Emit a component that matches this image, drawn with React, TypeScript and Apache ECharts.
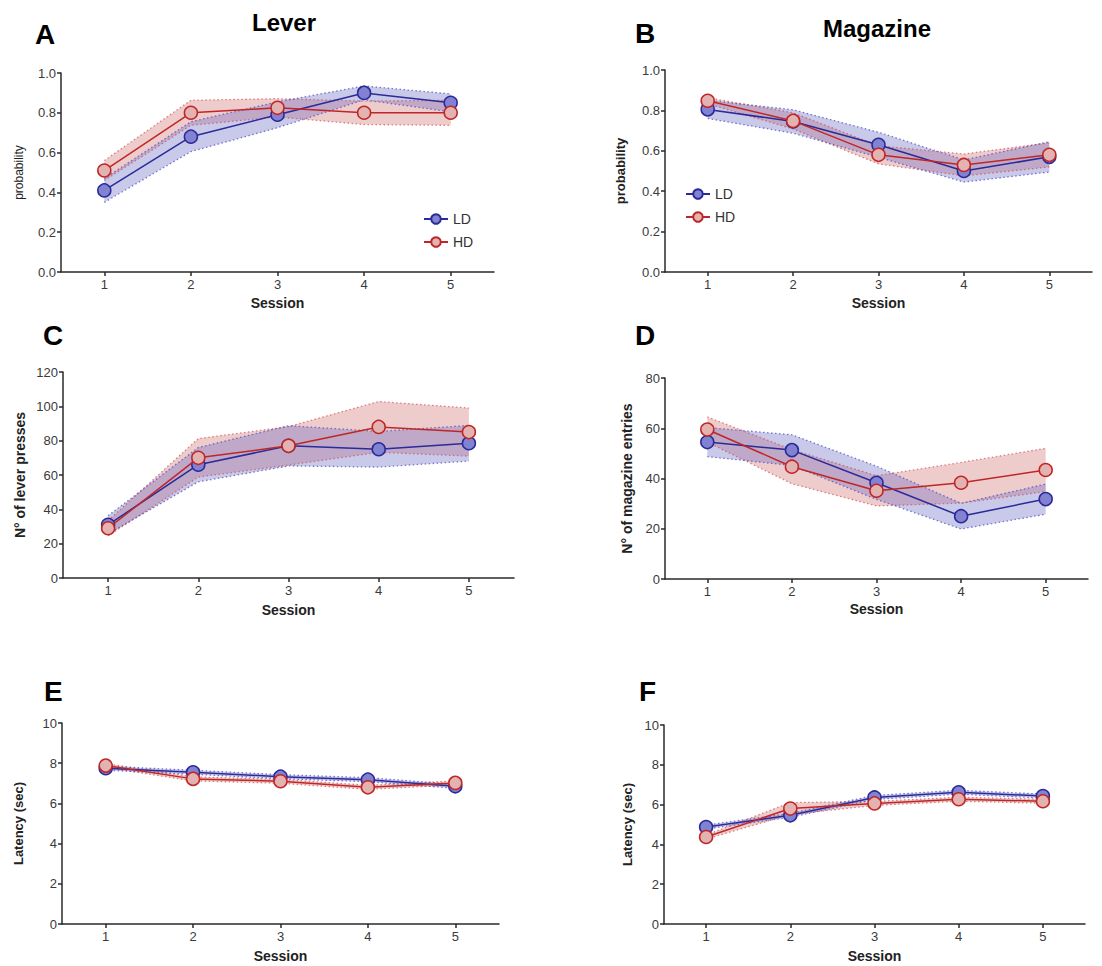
import React, { useEffect, useRef } from 'react';
import * as echarts from 'echarts';

const sessions = ['1', '2', '3', '4', '5'];

// Panel A – lever approach probability
const leverProbLD = [0.41, 0.68, 0.79, 0.9, 0.85];
const leverProbLDsem = [0.06, 0.075, 0.065, 0.035, 0.045];
const leverProbHD = [0.51, 0.8, 0.825, 0.8, 0.8];
const leverProbHDsem = [0.05, 0.063, 0.046, 0.059, 0.063];

// Panel B – magazine approach probability
const magProbLD = [0.805, 0.745, 0.63, 0.5, 0.57];
const magProbLDsem = [0.045, 0.058, 0.062, 0.055, 0.075];
const magProbHD = [0.848, 0.748, 0.58, 0.53, 0.58];
const magProbHDsem = [0.015, 0.04, 0.045, 0.054, 0.06];

// Panel C – number of lever presses
const leverPressLD = [31, 66, 77, 75, 78.5];
const leverPressLDsem = [5.3, 10, 11.7, 10.4, 10.4];
const leverPressHD = [29, 70, 77, 88, 85];
const leverPressHDsem = [4.4, 11.2, 11.2, 14.8, 14];

// Panel D – number of magazine entries
const magEntryLD = [54.5, 51.3, 38.3, 25, 31.8];
const magEntryLDsem = [5.8, 6.1, 6.6, 5.1, 6];
const magEntryHD = [59.5, 44.7, 35.1, 38.3, 43.4];
const magEntryHDsem = [5, 6.8, 6, 8.1, 8.6];

// Panel E – lever latency
const leverLatLD = [7.75, 7.55, 7.33, 7.18, 6.85];
const leverLatLDsem = [0.1, 0.1, 0.1, 0.1, 0.1];
const leverLatHD = [7.88, 7.22, 7.1, 6.8, 7.02];
const leverLatHDsem = [0.1, 0.1, 0.1, 0.1, 0.1];

// Panel F – magazine latency
const magLatLD = [4.87, 5.46, 6.36, 6.62, 6.43];
const magLatLDsem = [0.1, 0.1, 0.1, 0.1, 0.1];
const magLatHD = [4.37, 5.8, 6.06, 6.27, 6.17];
const magLatHDsem = [0.1, 0.3, 0.1, 0.1, 0.1];

const LD_LINE = '#2a2a98';
const LD_FILL = '#8282d2';
const LD_BAND = 'rgba(105,105,195,0.36)';
const LD_EDGE = 'rgba(70,70,190,0.7)';
const HD_LINE = '#c02626';
const HD_FILL = '#e2b3b1';
const HD_BAND = 'rgba(212,115,115,0.36)';
const HD_EDGE = 'rgba(205,70,70,0.65)';

type Panel = {
  grid: { left: number; top: number; width: number; height: number };
  yMax: number;
  yInt: number;
  dec: number;
  yName: string;
  yNameBold: boolean;
  yNameSize: number;
  yGap: number;
  xGap: number;
  ld: number[];
  ldSem: number[];
  hd: number[];
  hdSem: number[];
};

const panels: Panel[] = [
  { grid: { left: 61, top: 73, width: 433, height: 199 }, yMax: 1, yInt: 0.2, dec: 1, yName: 'probability', yNameBold: false, yNameSize: 12, yGap: 36, xGap: 24, ld: leverProbLD, ldSem: leverProbLDsem, hd: leverProbHD, hdSem: leverProbHDsem },
  { grid: { left: 665, top: 70, width: 427, height: 202 }, yMax: 1, yInt: 0.2, dec: 1, yName: 'probability', yNameBold: true, yNameSize: 13, yGap: 38, xGap: 24, ld: magProbLD, ldSem: magProbLDsem, hd: magProbHD, hdSem: magProbHDsem },
  { grid: { left: 63, top: 372, width: 451, height: 206 }, yMax: 120, yInt: 20, dec: 0, yName: 'N° of lever presses', yNameBold: true, yNameSize: 14, yGap: 36, xGap: 25, ld: leverPressLD, ldSem: leverPressLDsem, hd: leverPressHD, hdSem: leverPressHDsem },
  { grid: { left: 665, top: 378, width: 423, height: 201 }, yMax: 80, yInt: 20, dec: 0, yName: 'N° of magazine entries', yNameBold: true, yNameSize: 14, yGap: 31, xGap: 23, ld: magEntryLD, ldSem: magEntryLDsem, hd: magEntryHD, hdSem: magEntryHDsem },
  { grid: { left: 62, top: 723, width: 437, height: 201 }, yMax: 10, yInt: 2, dec: 0, yName: 'Latency (sec)', yNameBold: true, yNameSize: 13, yGap: 37, xGap: 25, ld: leverLatLD, ldSem: leverLatLDsem, hd: leverLatHD, hdSem: leverLatHDsem },
  { grid: { left: 664, top: 725, width: 421, height: 199 }, yMax: 10, yInt: 2, dec: 0, yName: 'Latency (sec)', yNameBold: true, yNameSize: 13, yGap: 30, xGap: 25, ld: magLatLD, ldSem: magLatLDsem, hd: magLatHD, hdSem: magLatHDsem },
];

const FONT = 'Liberation Sans, Arial, sans-serif';

function bandSeries(i: number, key: string, mean: number[], sem: number[], edge: string, fill: string) {
  const lower = mean.map((m, k) => m - sem[k]);
  const width = sem.map((s) => 2 * s);
  const common = {
    type: 'line',
    xAxisIndex: i,
    yAxisIndex: i,
    stack: `band${i}${key}`,
    symbol: 'none',
    silent: true,
    lineStyle: { color: edge, width: 1.3, type: [1.5, 2.5] as any },
    z: 1,
  };
  return [
    { ...common, name: `${key} lower ${i}`, data: lower },
    { ...common, name: `${key} band ${i}`, data: width, areaStyle: { color: fill, opacity: 1 } },
  ];
}

function meanSeries(i: number, key: string, data: number[], line: string, fill: string, z: number) {
  return {
    type: 'line',
    name: key,
    xAxisIndex: i,
    yAxisIndex: i,
    data,
    symbol: 'circle',
    symbolSize: 13,
    showSymbol: true,
    lineStyle: { color: line, width: 1.5 },
    itemStyle: { color: fill, borderColor: line, borderWidth: 1.5 },
    z,
  };
}

export default function App() {
  const ref = useRef<HTMLDivElement>(null);
  useEffect(() => {
    if (!ref.current) return;
    const chart = echarts.init(ref.current, undefined, { renderer: 'svg' });
    const axisLine = { show: true, lineStyle: { color: '#2a2a2a', width: 1.5 } };
    const series: any[] = [];
    panels.forEach((p, i) => {
      series.push(...bandSeries(i, 'HD', p.hd, p.hdSem, HD_EDGE, HD_BAND));
      series.push(...bandSeries(i, 'LD', p.ld, p.ldSem, LD_EDGE, LD_BAND));
      series.push(meanSeries(i, 'LD', p.ld, LD_LINE, LD_FILL, 5));
      series.push(meanSeries(i, 'HD', p.hd, HD_LINE, HD_FILL, 6));
    });
    const legendCommon = {
      orient: 'vertical',
      data: ['LD', 'HD'],
      itemWidth: 24,
      itemHeight: 12,
      itemGap: 9,
      selectedMode: false,
      textStyle: { fontSize: 14, color: '#333', fontFamily: FONT },
    };
    const letter = (t: string, x: number, y: number) => ({
      type: 'text', x, y,
      style: { text: t, font: `bold 28px ${FONT}`, fill: '#000', textVerticalAlign: 'bottom' },
    });
    chart.setOption({
      animation: false,
      backgroundColor: '#fff',
      textStyle: { fontFamily: FONT },
      grid: panels.map((p) => ({ ...p.grid, containLabel: false })),
      xAxis: panels.map((p, i) => ({
        type: 'category',
        gridIndex: i,
        data: sessions,
        boundaryGap: true,
        name: 'Session',
        nameLocation: 'middle',
        nameGap: p.xGap,
        nameTextStyle: { fontWeight: 'bold', fontSize: 14, color: '#222', fontFamily: FONT },
        axisLine,
        axisTick: { show: true, alignWithLabel: true, length: 4, lineStyle: { color: '#2a2a2a', width: 1.5 } },
        axisLabel: { fontSize: 13, color: '#3a3a3a', margin: 6, fontFamily: FONT },
        splitLine: { show: false },
      })),
      yAxis: panels.map((p, i) => ({
        type: 'value',
        gridIndex: i,
        min: 0,
        max: p.yMax,
        interval: p.yInt,
        name: p.yName,
        nameLocation: 'middle',
        nameGap: p.yGap,
        nameTextStyle: { fontWeight: p.yNameBold ? 'bold' : 'normal', fontSize: p.yNameSize, color: '#222', fontFamily: FONT },
        axisLine,
        axisTick: { show: true, length: 4, lineStyle: { color: '#2a2a2a', width: 1.5 } },
        axisLabel: { fontSize: 13, color: '#3a3a3a', margin: 5, fontFamily: FONT, formatter: (v: number) => v.toFixed(p.dec) },
        splitLine: { show: false },
      })),
      legend: [
        { ...legendCommon, left: 418, top: 207 },
        { ...legendCommon, left: 680, top: 182 },
      ],
      graphic: [
        letter('A', 35, 48),
        letter('B', 635, 47),
        letter('C', 43, 349),
        letter('D', 635, 349),
        letter('E', 44, 705),
        letter('F', 639, 705),
        { type: 'text', x: 284, y: 34, style: { text: 'Lever', font: `bold 24px ${FONT}`, fill: '#000', textAlign: 'center', textVerticalAlign: 'bottom' } },
        { type: 'text', x: 877, y: 40, style: { text: 'Magazine', font: `bold 24px ${FONT}`, fill: '#000', textAlign: 'center', textVerticalAlign: 'bottom' } },
      ],
      series,
    });
    return () => chart.dispose();
  }, []);
  return <div ref={ref} style={{ position: 'absolute', left: 0, top: 0, width: 1102, height: 966 }} />;
}
